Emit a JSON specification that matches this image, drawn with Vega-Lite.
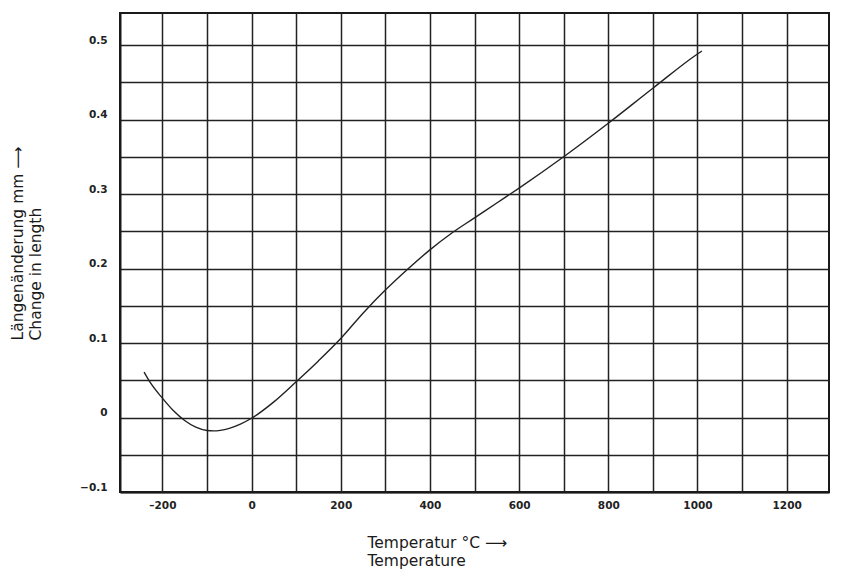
{
  "$schema": "https://vega.github.io/schema/vega-lite/v6.json",
  "autosize": "none",
  "width": 709,
  "height": 479,
  "padding": {"left": 120, "top": 13, "right": 16, "bottom": 80},
  "background": "white",
  "config": {
    "view": {"stroke": "#1a1a1a", "strokeWidth": 2},
    "axis": {
      "labelFont": "DejaVu Sans",
      "labelFontSize": 10.5,
      "labelColor": "#222",
      "labelFontWeight": "bold",
      "titleFont": "DejaVu Sans",
      "titleFontSize": 15.5,
      "titleFontWeight": "normal",
      "titleColor": "#1a1a1a",
      "gridColor": "#222",
      "gridWidth": 1.5,
      "gridOpacity": 1,
      "domainColor": "#1a1a1a",
      "domainWidth": 2,
      "ticks": false
    }
  },
  "data": {
    "values": [
      {"T": -241, "v": 0.061},
      {"T": -225, "v": 0.045},
      {"T": -200, "v": 0.026},
      {"T": -175, "v": 0.009},
      {"T": -150, "v": -0.004},
      {"T": -125, "v": -0.013},
      {"T": -100, "v": -0.0175},
      {"T": -85, "v": -0.018},
      {"T": -70, "v": -0.0172},
      {"T": -50, "v": -0.0145},
      {"T": -25, "v": -0.0088},
      {"T": 0, "v": -0.001},
      {"T": 50, "v": 0.021},
      {"T": 100, "v": 0.048},
      {"T": 150, "v": 0.076},
      {"T": 200, "v": 0.106},
      {"T": 250, "v": 0.140},
      {"T": 300, "v": 0.171},
      {"T": 350, "v": 0.199},
      {"T": 400, "v": 0.225},
      {"T": 450, "v": 0.248},
      {"T": 500, "v": 0.268},
      {"T": 550, "v": 0.288},
      {"T": 600, "v": 0.308},
      {"T": 700, "v": 0.350},
      {"T": 800, "v": 0.395},
      {"T": 900, "v": 0.442},
      {"T": 1000, "v": 0.488},
      {"T": 1010, "v": 0.492}
    ]
  },
  "mark": {"type": "line", "color": "#222", "strokeWidth": 1.4, "interpolate": "monotone"},
  "encoding": {
    "x": {
      "field": "T",
      "type": "quantitative",
      "scale": {"domain": [-295, 1295], "nice": false, "zero": false},
      "axis": {
        "values": [-200, -100, 0, 100, 200, 300, 400, 500, 600, 700, 800, 900, 1000, 1100, 1200],
        "labelExpr": "datum.value % 200 == 0 ? (datum.value < 0 ? '\u2013' + abs(datum.value) : '' + datum.value) : ''",
        "labelPadding": 8,
        "title": ["Temperatur \u00b0C  \u27f6", "Temperature"],
        "titleAlign": "left",
        "titleAnchor": "start",
        "titleX": 247,
        "titleY": 43,
        "titleBaseline": "top",
        "titleLineHeight": 18
      }
    },
    "y": {
      "field": "v",
      "type": "quantitative",
      "scale": {"domain": [-0.1, 0.543], "nice": false, "zero": false},
      "axis": {
        "values": [-0.1, -0.05, 0, 0.05, 0.1, 0.15, 0.2, 0.25, 0.3, 0.35, 0.4, 0.45, 0.5],
        "labelExpr": "round(datum.value * 20) % 2 == 0 ? replace(format(datum.value, '.1~f'), '-', '\u2013') : ''",
        "labelPadding": 13,
        "labelOffset": -5,
        "title": ["L\u00e4ngen\u00e4nderung mm  \u27f6", "Change in length"],
        "titleAngle": -90,
        "titleAlign": "left",
        "titleAnchor": "start",
        "titleBaseline": "top",
        "titleX": -110,
        "titleY": 327,
        "titleLineHeight": 18
      }
    }
  }
}
